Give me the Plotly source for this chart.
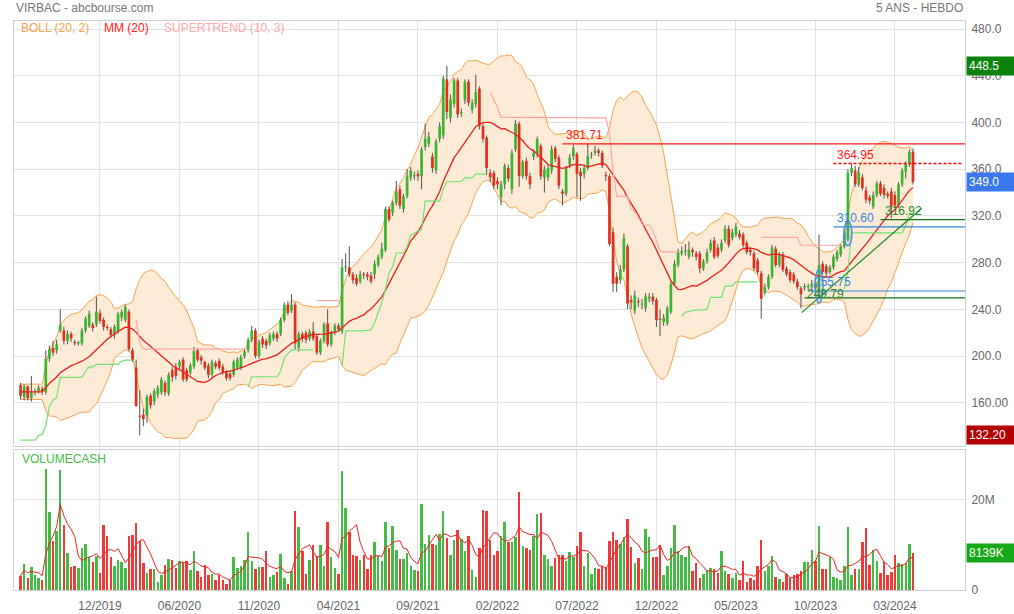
import numpy as np
import pandas as pd
import plotly.graph_objects as go

# ---------------- DATA (weekly, VIRBAC) ----------------
dates = pd.date_range("2019-07-29", periods=248, freq="7D")

opens = [
    175,165,174,164,169,170,172,169,198,207,
    205,222,222,213,219,212,211,211,222,226,
    227,227,237,231,225,223,218,221,233,231,
    238,205,190,149,150,149,166,161,167,169,
    177,168,188,191,191,197,188,186,191,205,
    199,195,192,184,194,196,191,186,185,184,
    190,190,200,205,214,222,200,215,213,211,
    215,219,219,231,244,239,244,207,219,220,
    215,221,217,203,213,228,210,220,226,221,
    276,276,270,267,264,270,270,269,270,278,
    285,291,326,323,331,343,326,337,353,354,
    356,354,379,382,371,359,386,389,437,404,
    416,436,408,419,435,411,416,429,397,387,
    357,357,350,336,347,361,343,377,399,354,
    367,354,371,373,380,353,353,359,378,370,
    341,339,364,371,373,358,356,361,372,374,
    376,374,355,354,306,268,265,274,294,248,
    239,247,244,241,249,251,248,232,229,228,
    238,262,278,288,290,285,291,288,288,275,
    281,291,299,293,291,299,309,301,304,305,
    304,297,291,288,282,271,254,259,268,292,
    278,287,275,272,270,264,258,259,259,259,
    262,256,279,277,272,276,283,287,294,300,
    357,359,347,353,342,336,328,338,348,344,
    339,341,338,329,347,358,365,375]

highs = [
    177,176,175,183,172,175,174,205,209,213,
    214,240,225,222,221,214,213,224,234,239,
    229,251,240,233,227,225,227,238,240,244,
    240,207,197,171,155,167,168,172,175,182,
    179,186,191,194,197,199,190,194,208,207,
    201,196,194,197,196,198,193,188,187,197,
    199,201,206,216,226,224,214,217,215,220,
    221,221,233,246,247,253,246,221,221,222,
    223,229,218,215,229,240,222,228,228,283,
    288,294,272,270,273,272,272,272,282,287,
    297,328,328,333,350,346,339,360,362,358,
    359,379,399,392,374,386,400,440,448.5,424,
    438,438,412,437,437,420,441,431,399,389,
    360,359,353,350,365,364,377,402,401,368,
    370,357,377,388,382,363,364,380,380,372,
    343,363,373,381,375,361,364,381.71,375,380,
    378,376,358,356,310,272,278,305,296,252,
    256,250,249,254,254,254,250,240,236,243,
    264,282,292,294,296,298,293,290,290,283,
    292,300,302,296,300,312,312,309,314,308,
    306,299,292,290,284,273,262,270,295,294,
    289,289,277,274,272,266,260,262,262,265,
    264,304,281,279,278,287,291,296,307,360,
    364.95,363,362,356,345,338,341,350,350,347,
    341,344,341,349,361,367,377,378]

lows = [
    163,162,162,161,166,168,167,167,195,200,
    202,220,210,210,212,209,209,209,220,224,
    221,225,228,222,222,216,215,219,230,229,
    204,195,157,132.2,140,143,155,158,164,167,
    166,166,178,180,189,178,178,184,189,195,
    193,188,181,182,189,188,184,179,179,182,
    188,188,198,203,212,198,198,207,206,209,
    213,212,217,229,235,237,206,204,212,211,
    213,213,201,201,211,208,208,218,221,219,
    272,268,262,260,262,266,265,262,266,276,
    283,289,315,320,329,326,323,335,350,351,
    350,343,376,379,357,356,383,386,403,400,
    413,404,405,416,414,408,413,394,383,355,
    349,343,343,329,343,349,339,375,345,352,
    351,343,368,370,351,340,350,356,366,343,
    329,337,361,368,336,333,352,359,369,372,
    371,361,350,294,255,255,262,272,240,240,
    236,242,240,238,246,244,225,217,226,226,
    236,260,276,286,286,283,285,282,271,273,
    279,289,283,284,289,297,293,299,302,300,
    293,287,286,273,270,232,252,257,266,276,
    276,272,268,263,262,257,241,256,257,256,
    255,250,270,268,270,274,281,285,292,298,
    354,345,345,342,331,330,326,336,337,335,
    335,318,327,327,345,352,362,347]

closes = [
    166,174,164,169,170,173,170,198,206,203,
    210,227,213,219,215,211,211.5,222,232,236,
    224,238,230,225,224,218,225,236,238,242,
    206,197,157,148,146,165,158,170,173,180,
    169,184,182,183,195,180,180,192,204,197,
    196,190,184,195,191,190,186,181,181,195,
    197,199,204,214,222,200,212,210,209,218,
    219,215,231,244,237,244,211,219,215,214,
    221,215,203,213,227,210,220,226,223,276,
    276.5,270,265,262,270,269.5,268,264,279,285,
    292,326,317,331,341,329,337,354,359,355,
    354,377,386,388,361,384,397,438,409,420,
    436,407,409,435,417,417,426,397,386,361,
    353,346,347,347,363,352,374,399,354,366,
    354,347,374,386,354,360,361,377,369,346,
    339,361,370,378,356,354,361,371,372.5,376,
    374,363,354,296,262,262,274,301,245,246,
    252,246,245,251,251,247,231,231,233,241,
    262,279,289,290,290.5,291,289,285,275,281,
    289,297,285,286,297,309,295,306,311,302,
    295,289,289,275,272,249,259,268,293,278,
    287,274,270,265,264,259,253,259.5,260,262,
    258,278,272,271,276,285,289,294,305,357,
    361,347,357,344,334,333,338,348,339,338,
    337,328,329,347,359,365,375,349]

volumes_m = [
    3.1,5.7,2.6,5.0,3.2,2.7,2.2,26.6,17.2,10.8,
    13.1,26.5,14.4,8.2,5.0,5.2,4.8,9.3,10.2,7.2,
    6.2,7.4,3.7,14.4,12.0,7.2,5.4,6.7,6.2,4.8,
    12.0,12.2,14.7,10.8,5.9,3.7,4.7,4.7,1.8,3.3,
    5.6,6.9,6.7,4.8,6.3,5.9,6.3,4.4,8.7,4.2,
    2.9,5.6,3.3,3.5,2.2,3.2,2.2,1.4,2.2,7.2,
    4.8,5.2,6.7,12.9,6.3,4.7,5.0,5.0,8.6,2.8,
    3.2,3.9,8.0,2.6,1.4,4.3,17.4,13.8,8.6,3.5,
    6.7,9.9,7.4,9.9,5.4,15.0,7.2,4.8,3.5,26.2,
    18.0,12.7,7.8,7.4,6.7,7.7,4.7,7.7,10.5,7.4,
    6.5,15.1,9.2,14.2,8.9,6.9,6.9,8.2,5.2,4.4,
    4.2,18.9,10.1,12.2,10.2,9.9,12.3,17.4,11.4,7.8,
    11.0,13.3,11.2,8.6,12.0,4.4,2.9,9.3,17.7,17.4,
    11.0,7.8,8.7,12.0,15.0,10.7,10.7,11.6,21.7,9.7,
    9.2,8.9,12.0,16.8,17.0,7.7,6.9,5.2,7.1,7.7,
    7.8,6.3,8.4,7.2,9.7,12.7,5.4,8.2,3.5,4.8,
    4.7,5.2,5.0,10.8,12.9,11.0,10.1,11.7,15.7,9.5,
    5.9,7.1,4.7,13.5,11.7,7.2,7.2,9.9,3.2,5.2,
    9.3,14.4,8.7,7.8,7.2,9.7,4.1,5.9,2.6,3.5,
    4.4,4.8,4.7,3.7,8.6,4.3,3.5,2.7,3.7,2.2,
    6.3,1.7,2.7,2.2,5.4,11.0,4.2,5.4,7.4,2.9,
    2.4,1.8,3.5,2.7,3.3,3.5,4.1,6.2,6.2,8.9,
    6.3,14.2,4.7,4.7,7.2,2.9,2.7,2.2,5.4,13.8,
    3.2,4.7,4.7,10.5,13.7,5.6,8.9,6.3,3.7,6.2,
    3.3,3.9,7.8,5.9,5.7,5.9,10.1,8.139]

# tick labels (every 22 weeks)
tick_idx = list(range(22, 248, 22))
tick_text = [dates[i].strftime("%m/%Y") for i in tick_idx]
price_ticks = [160, 200, 240, 280, 320, 360, 400, 440, 480]
price_tick_text = ["160.00", "200.0", "240.0", "280.0", "320.0", "360.0", "400.0", "440.0", "480.0"]

# drawing-tool levels: (value, start index)
red_level = (381.71, 150)
red_dotted_level = (364.95, 225)
blue_levels = [(310.60, 225), (255.75, 218)]
green_levels = [(316.92, 238), (249.79, 217)]
trend_pts = [(216.2, 237.2), (249.4, 326.6)]
ellipse_marks = [(221, 245.6, 274.1), (229, 294.4, 315.5)]
label_pos = {  # label text -> (x index, level, color key)
    "381.71": (156.0, 381.71, "red"),
    "364.95": (231.2, 364.95, "red"),
    "310.60": (231.2, 310.60, "blue"),
    "255.75": (224.6, 255.75, "blue"),
    "249.79": (222.9, 249.79, "green"),
    "316.92": (244.5, 316.92, "green"),
}

n = len(closes)
for arr in (opens, highs, lows, volumes_m):
    if len(arr) != n:
        raise ValueError("length mismatch %d vs %d" % (len(arr), n))

o = np.array(opens, float); h = np.array(highs, float)
l = np.array(lows, float); c = np.array(closes, float)
v = np.array(volumes_m, float)
idx = np.arange(n)

# ---------------- INDICATORS ----------------
cs = pd.Series(c)
ma = cs.rolling(20, min_periods=7).mean().bfill().values
sd = cs.rolling(20, min_periods=7).std(ddof=0).bfill().values
bb_up = ma + 2 * sd
bb_lo = ma - 2 * sd

prev_c = np.r_[c[0], c[:-1]]
tr = np.maximum(h - l, np.maximum(np.abs(h - prev_c), np.abs(l - prev_c)))
atr = pd.Series(tr).ewm(alpha=1 / 10, adjust=False).mean().values
hl2 = (h + l) / 2
ub = hl2 + 3 * atr
lb = hl2 - 3 * atr
fub = ub.copy(); flb = lb.copy(); trend = np.ones(n, int)
for i in range(1, n):
    fub[i] = ub[i] if (ub[i] < fub[i - 1] or c[i - 1] > fub[i - 1]) else fub[i - 1]
    flb[i] = lb[i] if (lb[i] > flb[i - 1] or c[i - 1] < flb[i - 1]) else flb[i - 1]
    if trend[i - 1] == 1 and c[i] < flb[i]:
        trend[i] = -1
    elif trend[i - 1] == -1 and c[i] > fub[i]:
        trend[i] = 1
    else:
        trend[i] = trend[i - 1]
st_up = np.where(trend == 1, flb, np.nan)
st_dn = np.where(trend == -1, fub, np.nan)

vol_ma = pd.Series(v).rolling(5, min_periods=1).mean().values

# ---------------- STYLE ----------------
UP = "#39b531"; DN = "#e0301e"; WICK = "#55504a"
VUP = "#44bb44"; VDN = "#f03a3a"
GRID = "#e2e2e2"; BORDER = "#d0d0d0"
COL = {"red": "#ff1a1a", "blue": "#2f86e0", "green": "#1e8a1e"}
XR = [-1.8, 261.4]

fig = go.Figure()

# Bollinger
fig.add_trace(go.Scatter(x=idx, y=bb_up, mode="lines", line=dict(color="#f5a34a", width=1),
                         hoverinfo="skip", xaxis="x", yaxis="y"))
fig.add_trace(go.Scatter(x=idx, y=bb_lo, mode="lines", line=dict(color="#f5a34a", width=1),
                         fill="tonexty", fillcolor="#fdebd6", hoverinfo="skip", xaxis="x", yaxis="y"))

# wicks
wx, wy = [], []
for i in range(n):
    wx += [i, i, None]; wy += [l[i], h[i], None]
fig.add_trace(go.Scatter(x=wx, y=wy, mode="lines", line=dict(color=WICK, width=1),
                         hoverinfo="skip", xaxis="x", yaxis="y"))

# bodies
for up_flag, col in ((True, UP), (False, DN)):
    bx, by = [], []
    for i in range(n):
        if (c[i] >= o[i]) != up_flag:
            continue
        lo_b, hi_b = min(o[i], c[i]), max(o[i], c[i])
        if hi_b - lo_b < 1.0:
            m = (hi_b + lo_b) / 2; lo_b, hi_b = m - 0.5, m + 0.5
        bx += [i, i, None]; by += [lo_b, hi_b, None]
    fig.add_trace(go.Scatter(x=bx, y=by, mode="lines", line=dict(color=col, width=2.7),
                             hoverinfo="skip", xaxis="x", yaxis="y"))

# MA and supertrend
fig.add_trace(go.Scatter(x=idx, y=ma, mode="lines", line=dict(color="#ee1c1c", width=1.3),
                         hoverinfo="skip", xaxis="x", yaxis="y"))
fig.add_trace(go.Scatter(x=idx, y=st_up, mode="lines", line=dict(color="#6fe26f", width=1.2),
                         connectgaps=False, hoverinfo="skip", xaxis="x", yaxis="y"))
fig.add_trace(go.Scatter(x=idx, y=st_dn, mode="lines", line=dict(color="#ffa6a6", width=1.2),
                         connectgaps=False, hoverinfo="skip", xaxis="x", yaxis="y"))

# volume
vcols = [VUP if c[i] >= o[i] else VDN for i in range(n)]
fig.add_trace(go.Bar(x=idx, y=v, marker=dict(color=vcols, line=dict(width=0)), width=0.68,
                     hoverinfo="skip", xaxis="x2", yaxis="y2"))
fig.add_trace(go.Scatter(x=idx, y=vol_ma, mode="lines", line=dict(color="#ee2222", width=1),
                         hoverinfo="skip", xaxis="x2", yaxis="y2"))

# ---------------- SHAPES ----------------
shapes = []
shapes.append(dict(type="line", xref="x", yref="y", x0=red_level[1], x1=XR[1], y0=red_level[0],
                   y1=red_level[0], line=dict(color="#ff1a1a", width=1.2)))
shapes.append(dict(type="line", xref="x", yref="y", x0=red_dotted_level[1], x1=XR[1] - 0.8,
                   y0=red_dotted_level[0], y1=red_dotted_level[0],
                   line=dict(color="#ff0000", width=1.3, dash="3px,2px")))
for val, st in blue_levels:
    shapes.append(dict(type="line", xref="x", yref="y", x0=st, x1=XR[1], y0=val, y1=val,
                       line=dict(color=COL["blue"], width=1.2)))
for val, st in green_levels:
    shapes.append(dict(type="line", xref="x", yref="y", x0=st, x1=XR[1], y0=val, y1=val,
                       line=dict(color="#137313", width=1.2)))
shapes.append(dict(type="line", xref="x", yref="y", x0=trend_pts[0][0], y0=trend_pts[0][1],
                   x1=trend_pts[1][0], y1=trend_pts[1][1], line=dict(color="#1e8a1e", width=1.2)))
for ci, y0, y1 in ellipse_marks:
    shapes.append(dict(type="circle", xref="x", yref="y", x0=ci - 1.1, x1=ci + 1.1, y0=y0, y1=y1,
                       line=dict(color="#4a90e2", width=1.5), fillcolor="rgba(74,144,226,0.12)"))

# ---------------- ANNOTATIONS ----------------
ann = []
ann.append(dict(xref="paper", yref="paper", x=0, y=1, xanchor="left", yanchor="middle", yshift=13,
                text="VIRBAC - abcbourse.com", showarrow=False, font=dict(size=12, color="#777")))
ann.append(dict(xref="paper", yref="paper", x=1, y=1, xanchor="right", yanchor="middle", yshift=13,
                text="5 ANS - HEBDO", showarrow=False, font=dict(size=12, color="#777")))
for txt, xs, colr in (("BOLL (20, 2)", 5, "#f5a34a"), ("MM (20)", 88, "#ff1a1a"),
                      ("SUPERTREND (10, 3)", 148, "#ffaaaa")):
    ann.append(dict(xref="paper", yref="paper", x=0, y=1, xanchor="left", yanchor="middle",
                    xshift=xs, yshift=-7, text=txt, showarrow=False, font=dict(size=12, color=colr)))
ann.append(dict(xref="paper", yref="paper", x=0, y=0.2460, xanchor="left", yanchor="middle",
                xshift=6, yshift=-8.5, text="VOLUMECASH", showarrow=False,
                font=dict(size=12, color="#44bb44")))
for txt, (xi, lvl, ck) in label_pos.items():
    ys = -5 if txt == "249.79" else 0
    ann.append(dict(xref="x", yref="y", x=xi, y=lvl, xanchor="center", yanchor="bottom", yshift=ys,
                    text=txt, showarrow=False, font=dict(size=12, color=COL[ck])))
# right-side value boxes
hi_val = float(h.max()); lo_val = float(l.min()); last_c = float(c[-1])
for val, txt, bg, yr in ((hi_val, "%.1f" % hi_val, "#0b820b", "y"),
                         (last_c, "%.1f" % last_c, "#3a78ee", "y"),
                         (lo_val, "%.2f" % lo_val, "#b30000", "y"),
                         (float(v[-1]), "%dK" % round(v[-1] * 1000), "#17a817", "y2")):
    ann.append(dict(xref="paper", yref=yr, x=1, y=val, xanchor="left", yanchor="middle", xshift=1,
                    text=txt, showarrow=False, bgcolor=bg, width=44, align="left", borderpad=2,
                    font=dict(size=12, color="white")))

axis_common = dict(showgrid=True, gridcolor=GRID, gridwidth=1, zeroline=False, showline=True,
                   linecolor=BORDER, linewidth=1, mirror=True, ticks="", automargin=False)

fig.update_layout(
    width=1014, height=614, margin=dict(l=14, r=49, t=21, b=24, autoexpand=False),
    paper_bgcolor="white", plot_bgcolor="white", showlegend=False, bargap=0,
    font=dict(family="Liberation Sans, Arial, sans-serif", size=12, color="#666"),
    xaxis=dict(domain=[0, 1], anchor="y", range=XR, tickvals=tick_idx, showticklabels=False,
               **axis_common),
    xaxis2=dict(domain=[0, 1], anchor="y2", range=XR, tickvals=tick_idx, ticktext=tick_text,
                matches="x", tickfont=dict(size=12, color="#666"), ticklabelstandoff=5,
                **axis_common),
    yaxis=dict(domain=[0.2531, 1], range=[123.0, 487.0], side="right", tickvals=price_ticks,
               ticktext=price_tick_text, tickfont=dict(size=12, color="#666"),
               ticklabelstandoff=3, **axis_common),
    yaxis2=dict(domain=[0, 0.2460], range=[0, 30.9], side="right", tickvals=[0, 20],
                ticktext=["0", "20M"], tickfont=dict(size=12, color="#666"),
                ticklabelstandoff=3, **axis_common),
    shapes=shapes, annotations=ann,
)

fig.write_html("out.html", config={"displayModeBar": False},
               post_script="document.body.style.margin='0px';"
                           "document.body.style.overflow='hidden';")
